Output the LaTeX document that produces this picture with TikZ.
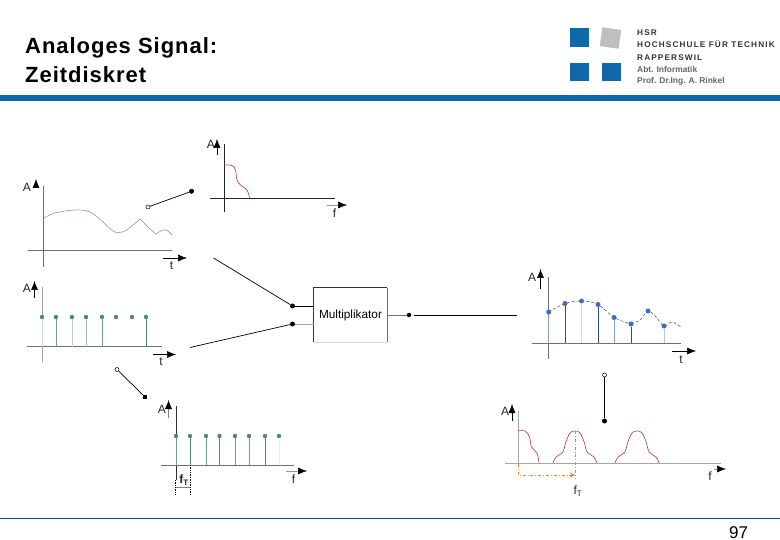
\documentclass[tikz,border=0pt]{standalone}
\usepackage{fontspec}
\setmainfont{Liberation Sans}
\newfontfamily\titlefont[LetterSpace=4.4]{Liberation Sans}
\newfontfamily\logofont[LetterSpace=14]{Liberation Sans}
\usetikzlibrary{arrows.meta}
\definecolor{hsrblue}{HTML}{0F69A8}
\definecolor{stemgreen}{HTML}{6FA08C}
\definecolor{dotgreen}{HTML}{4F8A70}
\definecolor{dotblue}{HTML}{4169C8}
\definecolor{stemblue}{HTML}{7F9FD8}
\definecolor{curveblue}{HTML}{6F8FB8}
\definecolor{redcurve}{HTML}{C03040}
\definecolor{orangeline}{HTML}{E08A30}
\definecolor{axisgrey}{HTML}{707070}
\tikzset{
  x=1pt,y=-1pt,
  axis/.style={draw=axisgrey,line width=0.9pt},
  axisdark/.style={draw=black!85,line width=0.9pt},
  dirarrow/.style={draw=black,line width=0.5pt,-{Latex[length=9pt,width=7pt,color=black,fill=black]}},
  lbl/.style={inner sep=0pt,font=\fontsize{12}{12}\selectfont,text=black!85},
  sub/.style={inner sep=0pt,font=\bfseries\fontsize{12}{12}\selectfont,text=black!85},
  dot/.style={circle,fill=black,inner sep=0pt,minimum size=5pt},
  opendot/.style={circle,draw=black,fill=white,line width=0.5pt,inner sep=0pt,minimum size=4pt},
  link/.style={draw=black,line width=0.7pt},
  stemg/.style={draw=stemgreen,line width=0.8pt},
  dotg/.style={circle,fill=dotgreen,inner sep=0pt,minimum size=4.4pt},
  stemb/.style={draw=stemblue,line width=0.8pt},
  dotb/.style={circle,fill=dotblue,inner sep=0pt,minimum size=5pt},
  redc/.style={draw=redcurve,line width=0.6pt},
  logotxt/.style={inner sep=0pt,anchor=base west,font=\logofont\bfseries\fontsize{8.2}{8.2}\selectfont,text=black!80},
  abt/.style={inner sep=0pt,anchor=base west,font=\bfseries\fontsize{8.4}{8.4}\selectfont,text=black!60},
  square/.style={fill=hsrblue,draw=none},
  titletxt/.style={inner sep=0pt,anchor=base west,font=\titlefont\bfseries\fontsize{22}{22}\selectfont},
}
\begin{document}
\begin{tikzpicture}
\useasboundingbox (0,0) rectangle (780,540);
\fill[white] (0,0) rectangle (780,540);
% header
\node[titletxt] (title1) at (25,53.3) {Analoges Signal:};
\node[titletxt] (title2) at (25,82.7) {Zeitdiskret};
\fill[square] (570,28) rectangle (588.5,47.5);
\fill[square] (570,63) rectangle (588.5,81);
\fill[square] (602,63) rectangle (621,81);
\fill[black!25,rotate around={-8:(610.5,38)}] (601,28.5) rectangle (620,47.5);
\node[logotxt] (l1) at (637,36) {HSR};
\node[logotxt] (l2) at (637,48) {HOCHSCHULE FÜR TECHNIK};
\node[logotxt] (l3) at (637,60.5) {RAPPERSWIL};
\node[abt] (l4) at (637,72.5) {Abt. Informatik};
\node[abt] (l5) at (637,83.5) {Prof. Dr.Ing. A. Rinkel};
\fill[hsrblue] (0,95) rectangle (780,101);
\draw[draw=hsrblue!70!black,line width=0.8pt] (0,518) -- (780,518);
\node[inner sep=0pt,anchor=base,font=\fontsize{17}{17}\selectfont] (page) at (738.5,538.5) {97};

% plot 1: analog signal
\draw[axis] (43.7,186) -- (43.7,267);
\draw[axis] (28,250) -- (172,250);
\draw[curveblue,line width=0.5pt] plot[smooth,tension=0.6] coordinates {(44,218) (55,213) (75,210) (90,212) (103,222) (113,231) (120,232.5) (128,229) (140,219)};
\draw[curveblue,line width=0.5pt] plot[smooth,tension=0.4] coordinates {(140,219) (149,228) (156,234)};
\draw[curveblue,line width=0.5pt] plot[smooth,tension=0.7] coordinates {(156,234) (163,230) (168,231) (172,235)};
\node[lbl] (A1) at (27,187) {A};
\coordinate (a1s) at (36,187.5); \coordinate (a1e) at (36,179);
\draw[dirarrow] (a1s) -- (a1e);
\coordinate (t1s) at (163,258); \coordinate (t1e) at (187,258);
\draw[dirarrow] (t1s) -- (t1e);
\node[lbl] (t1) at (171.5,266) {t};
\node[opendot] (o1) at (148,207) {};
\node[dot] (d1) at (191.5,191.3) {};
\draw[link] (o1) -- (d1);

% plot 2: spectrum
\draw[axisdark] (224,144) -- (224,212);
\draw[axisdark] (210,198) -- (335,198);
\draw[redc] plot[smooth,tension=0.6] coordinates {(224,165) (232,165.5) (235.5,170) (237,180) (241,185.5) (247,190) (249.5,198)};
\node[lbl] (A2) at (211,144) {A};
\coordinate (a2s) at (217,155); \coordinate (a2e) at (217,139);
\draw[dirarrow] (a2s) -- (a2e);
\coordinate (f2s) at (327,205); \coordinate (f2e) at (347,205);
\draw[dirarrow,draw=black!40] (f2s) -- (f2e);
\node[lbl] (f2) at (334.5,213) {f};

% multiplier
\node[draw=none,minimum width=73pt,minimum height=54pt,inner sep=0pt,font=\fontsize{11.8}{11.8}\selectfont] (mult) at (350.5,315) {Multiplikator};
\draw[black!80,line width=0.7pt] (mult.south west) -- (mult.north west) -- (mult.north east);
\draw[axisgrey,line width=0.9pt] (mult.north east) -- (mult.south east);
\draw[black!15,line width=0.8pt] (mult.south west) -- (mult.south east);
\coordinate (in1) at (213.5,258);
\coordinate (in2) at (190,347.5);
\node[dot] (d2) at (292.5,306) {};
\node[dot] (d3) at (292.5,324) {};
\draw[link] (in1) -- (d2);
\draw[link] (in2) -- (d3);
\draw[black,line width=0.7pt] (d2) -- (d2-|mult.west);
\draw[black!35,line width=0.7pt] (d3) -- (d3-|mult.west);
\node[dot,minimum size=4.5pt] (d4) at (409,315) {};
\draw[axisgrey,line width=0.7pt] (mult.east) -- (d4);
\coordinate (out1) at (414,315);
\coordinate (out2) at (517,315);
\draw[link] (out1) -- (out2);

% plot 3: impulse train
\draw[black!35,line width=0.6pt] (42.5,287) -- (42.5,362);
\draw[axisgrey,line width=1pt] (27,347) -- (162,347);
\foreach \x/\n in {42/0,56/1,72/2,86/3,102/4,116/5,132/6,146/7}{
  \node[dotg] (p\n) at (\x,317) {};
}
\draw[stemg,draw=stemgreen!40] (p0) -- (42,347);
\draw[stemg] (p1) -- (56,347);
\draw[stemg,draw=stemgreen!50] (p2) -- (72,347);
\draw[stemg,draw=stemgreen!70] (p3) -- (86,347);
\draw[stemg,line width=1pt] (p4) -- (102,347);
\draw[stemg,draw=dotgreen] (p7) -- (146,347);
\node[lbl] (A3) at (27,288) {A};
\coordinate (a3s) at (34.5,298); \coordinate (a3e) at (34.5,281);
\draw[dirarrow] (a3s) -- (a3e);
\coordinate (t3s) at (153,354.5); \coordinate (t3e) at (176,354.5);
\draw[dirarrow] (t3s) -- (t3e);
\node[lbl] (t3) at (161,362) {t};
\node[opendot] (o3) at (117,369.5) {};
\node[dot,rectangle,minimum size=4pt] (d5) at (145,397) {};
\draw[link] (o3) -- (d5);

% plot 4: impulse spectrum
\draw[black!80,line width=1pt] (176,406) -- (176,480);
\draw[axisgrey,line width=0.8pt] (161,465) -- (294,465);
\foreach \x/\n in {176/0,190/1,206/2,219.5/3,235/4,249/5,265/6,279/7}{
  \node[dotg] (q\n) at (\x,436) {};
}
\draw[stemg] (q0) -- (176,465);
\draw[stemg,draw=dotgreen] (q1) -- (190,465);
\draw[stemg] (q2) -- (206,465);
\draw[stemg,draw=dotgreen] (q3) -- (219.5,465);
\draw[stemg] (q4) -- (235,465);
\draw[stemg] (q5) -- (249,465);
\draw[stemg,draw=dotgreen] (q6) -- (265,465);
\draw[stemg,draw=stemgreen!15] (q7) -- (279,465);
\node[lbl] (A4) at (162,409) {A};
\coordinate (a4s) at (168.5,418); \coordinate (a4e) at (168.5,400);
\draw[dirarrow,draw=black!50] (a4s) -- (a4e);
\coordinate (f4s) at (286,471); \coordinate (f4e) at (307,471);
\draw[dirarrow,draw=black!40] (f4s) -- (f4e);
\node[lbl] (f4) at (293.5,479) {f};
\draw[black,densely dotted,line width=0.7pt] (175.5,480) -- (175.5,494);
\draw[black,densely dotted,line width=0.7pt] (190.5,465) -- (190.5,494);
\draw[black!50,line width=0.5pt] (176,487) -- (190,487);
\node[sub] (fT4) at (184,480) {f\textsubscript{T}};

% plot 5: sampled signal
\draw[axisgrey,line width=0.9pt] (548.7,277) -- (548.7,359);
\draw[axisgrey,line width=0.9pt] (532,343) -- (681,343);
\draw[black!70,line width=0.5pt,densely dashed] plot[smooth,tension=0.6] coordinates {(548.7,312) (565,303.5) (581.5,301) (598,304.5) (614,317.5) (631,324)};
\draw[black!70,line width=0.5pt,densely dashed] plot[smooth,tension=0.5] coordinates {(631,324) (640,320) (648,311) (656,317) (664,326) (672,322) (681,327)};
\foreach \x/\y/\n in {548.7/312/0,565/303.5/1,581.5/301/2,598/304.5/3,614/317.5/4,631/324/5,648/311/6,664/326/7}{
  \node[dotb] (s\n) at (\x,\y) {};
}
\draw[stemb] (s0) -- (548.7,343);
\draw[stemb,draw=dotblue!70!black] (s1) -- (565,343);
\draw[stemb,draw=stemblue!40] (s2) -- (581.5,343);
\draw[stemb,draw=dotblue!70!black] (s3) -- (598,343);
\draw[stemb,line width=1pt] (s4) -- (614,343);
\draw[stemb,draw=dotblue!70!black] (s5) -- (631,343);
\draw[stemb,draw=stemblue!60] (s7) -- (664,343);
\node[lbl] (A5) at (532,277) {A};
\coordinate (a5s) at (540.5,289); \coordinate (a5e) at (540.5,269);
\draw[dirarrow] (a5s) -- (a5e);
\coordinate (t5s) at (672,351); \coordinate (t5e) at (696,351);
\draw[dirarrow] (t5s) -- (t5e);
\node[lbl] (t5) at (681,359.5) {t};
\node[opendot] (o5) at (604.5,375) {};
\node[dot] (d6) at (604.5,421) {};
\draw[link] (o5) -- (d6);

% plot 6: periodic spectrum
\draw[black!35,line width=0.6pt] (518,411) -- (518,464);
\draw[black!35,line width=0.6pt] (505,463.3) -- (721,463.3);
\draw[redc] plot[smooth,tension=0.6] coordinates {(518,431) (525,431) (529.5,437) (531.5,447) (537,453) (539,463)};
\foreach \c in {575,637}{
  \pgfmathsetmacro{\lA}{\c-22}\pgfmathsetmacro{\lB}{\c-19}\pgfmathsetmacro{\lC}{\c-12}\pgfmathsetmacro{\lD}{\c-9.5}\pgfmathsetmacro{\lE}{\c-5}
  \pgfmathsetmacro{\rA}{\c+22}\pgfmathsetmacro{\rB}{\c+19}\pgfmathsetmacro{\rC}{\c+12}\pgfmathsetmacro{\rD}{\c+9.5}\pgfmathsetmacro{\rE}{\c+5}
  \draw[redc] plot[smooth,tension=0.6] coordinates {(\lA,463) (\lB,457) (\lC,452) (\lD,443) (\lE,433) (\c,431) (\rE,433) (\rD,443) (\rC,452) (\rB,457) (\rA,463)};
}
\node[lbl] (A6) at (505,411) {A};
\coordinate (a6s) at (512,421); \coordinate (a6e) at (512,404);
\draw[dirarrow] (a6s) -- (a6e);
\coordinate (f6s) at (714,469); \coordinate (f6e) at (726,469);
\draw[dirarrow,draw=black!40] (f6s) -- (f6e);
\node[lbl] (f6) at (710,476.5) {f};
\draw[orangeline,line width=0.8pt,dash dot] (575,431) -- (575,478);
\draw[orangeline,line width=0.8pt,dash dot,->,>={Stealth[length=5pt,width=5pt]}] (518,464) -- (518,475) -- (575,475);
\node[sub,font=\fontsize{12}{12}\selectfont] (fT6) at (578,491.5) {f\textsubscript{T}};
\end{tikzpicture}
\end{document}
